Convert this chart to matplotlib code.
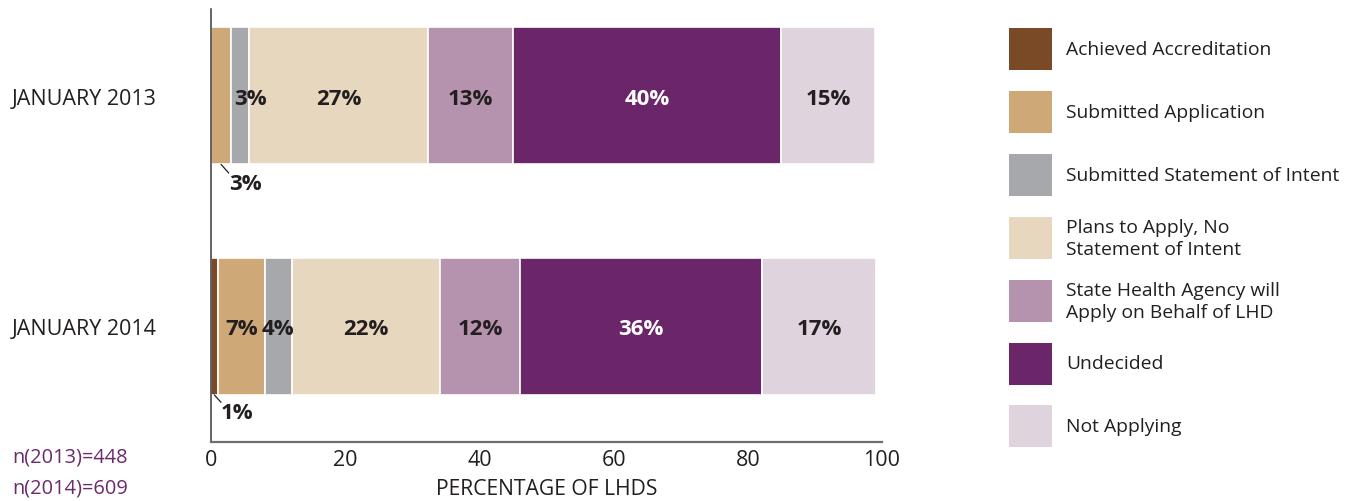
import matplotlib.pyplot as plt
from matplotlib.patches import Rectangle

plt.rcParams['font.family'] = ['Open Sans', 'DejaVu Sans']

periods = ['JANUARY 2013', 'JANUARY 2014']
categories = ['Achieved Accreditation', 'Submitted Application', 'Submitted Statement of Intent',
              'Plans to Apply, No\nStatement of Intent', 'State Health Agency will\nApply on Behalf of LHD',
              'Undecided', 'Not Applying']
colors = ['#7a4a27', '#cfa877', '#a7a8ac', '#e8d7bf', '#b593ae', '#6b2569', '#dfd3de']
values_2013 = [0, 3, 2.7, 26.6, 12.7, 40, 14]
values_2014 = [1, 7, 4.1, 22, 12, 36, 17]
labels_2013 = ['', '3%', '3%', '27%', '13%', '40%', '15%']
labels_2014 = ['1%', '7%', '4%', '22%', '12%', '36%', '17%']
sample_notes = ['n(2013)=448', 'n(2014)=609']

text_color = '#231f20'
W, H = 1353, 502

fig = plt.figure(figsize=(W / 100, H / 100), dpi=100)
ax = fig.add_axes([211 / W, 1 - 443 / H, (882 - 211) / W, (443 - 10) / H])

bar_h = 0.594
# segments labelled outside the bar with a leader line: (row, segment index, line end, text offset)
outside = [(0, 1, (5.5, -6.2), (17.3, -13.9)),
           (1, 0, (4.8, -5.3), (16.3, -12.5))]
outside_keys = {(r, i) for r, i, _, _ in outside}

rows = [(values_2013, labels_2013), (values_2014, labels_2014)]
for yi, (vals, labs) in enumerate(rows):
    left = 0
    for si, (v, lab, c) in enumerate(zip(vals, labs, colors)):
        if v > 0:
            ax.barh(yi, v, left=left, height=bar_h, color=c, edgecolor='white', linewidth=1.2)
            tc = 'white' if c == '#6b2569' else text_color
            if (yi, si) in outside_keys:
                pass
            elif v >= 3.5:
                ax.text(left + v / 2, yi + 0.01, lab, ha='center', va='center', fontsize=16,
                        fontweight='bold', color=tc)
            else:
                ax.text(left + 0.4, yi + 0.01, lab, ha='left', va='center', fontsize=16,
                        fontweight='bold', color=tc)
        left += v

for yi, si, lend, toff in outside:
    vals, labs = rows[yi]
    xc = sum(vals[:si]) + vals[si] / 2
    yb = yi + bar_h / 2
    ax.annotate('', xy=(xc, yb), xytext=lend, textcoords='offset points',
                arrowprops=dict(arrowstyle='-', color=text_color, lw=0.9, shrinkA=0, shrinkB=0))
    ax.annotate(labs[si], xy=(xc, yb), xytext=toff, textcoords='offset points', ha='center',
                va='center', fontsize=16, fontweight='bold', color=text_color)

ax.set_xlim(0, 100)
ax.set_ylim(1 + 0.501, -0.377)
ax.set_xticks([0, 20, 40, 60, 80, 100])
ax.set_yticks([0, 1])
ax.set_yticklabels(periods, ha='left')
ax.tick_params(axis='y', length=0, pad=199 * 0.72, labelsize=15.5, labelcolor=text_color)
ax.tick_params(axis='x', length=0, pad=5, labelsize=15.5, labelcolor=text_color)
for s in ['top', 'right']:
    ax.spines[s].set_visible(False)
ax.spines['left'].set_color('#3a3a3a')
ax.spines['left'].set_linewidth(1.1)
ax.spines['bottom'].set_color('#6d6e71')
ax.spines['bottom'].set_linewidth(1.6)
ax.set_xlabel('PERCENTAGE OF LHDS', fontsize=15.2, color=text_color)
ax.xaxis.set_label_coords(0.5, -(479 - 443) / 433)

for i, note in enumerate(sample_notes):
    fig.text(12 / W, 1 - (458 + 31 * i) / H, note, ha='left', va='center', fontsize=14.4,
             color='#6b2a6b')

# legend drawn in pixel coordinates
lax = fig.add_axes([0, 0, 1, 1])
lax.set_xlim(0, W)
lax.set_ylim(H, 0)
lax.axis('off')
for i, (cat, c) in enumerate(zip(categories, colors)):
    yc = 50 + 62.9 * i
    lax.add_patch(Rectangle((1009, yc - 21), 43, 42, facecolor=c, edgecolor='none'))
    lax.text(1066, yc, cat, ha='left', va='center', fontsize=13.9, color=text_color, linespacing=1.3)

fig.savefig('out.png', dpi=100)
